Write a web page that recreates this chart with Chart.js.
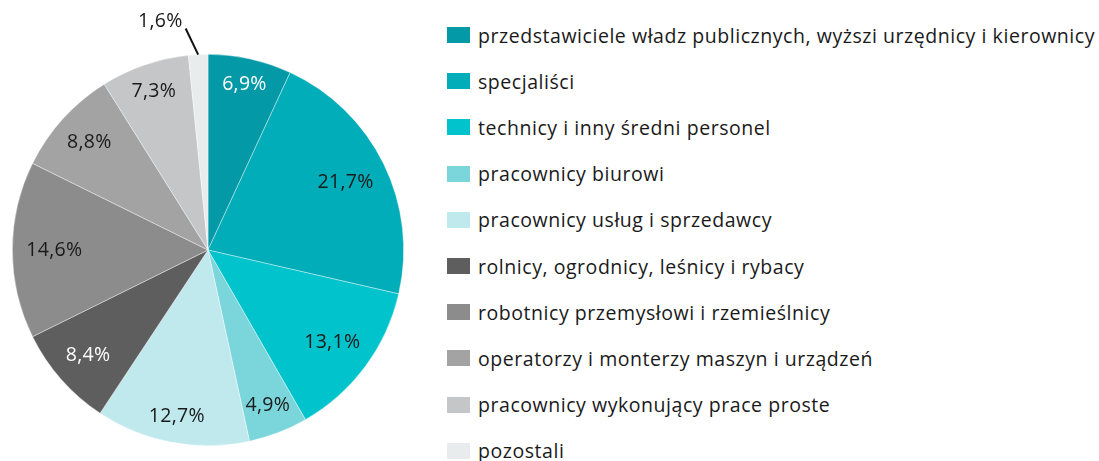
<!DOCTYPE html>
<html>
<head>
<meta charset="utf-8">
<script src="https://cdn.jsdelivr.net/npm/chart.js@4"></script>
<style>
  body { margin: 0; background: #fff; width: 1099px; height: 461px; overflow: hidden; position: relative; font-family: "Open Sans", "Noto Sans", sans-serif; }
  #pieBox { position: absolute; left: 0; top: 0; width: 420px; height: 461px; }
  #legend { position: absolute; left: 447px; top: 0; }
  .item { position: absolute; left: 0; white-space: nowrap; display: flex; align-items: center; height: 24px; }
  .box { width: 23px; height: 16px; margin-right: 8px; flex: none; }
  .txt { font-size: 19.5px; letter-spacing: 0.55px; color: #1a1a1a; }
</style>
</head>
<body>
<div id="pieBox"><canvas id="pie"></canvas></div>
<div id="legend"></div>
<script>
// data
const categories = [
  'przedstawiciele władz publicznych, wyższi urzędnicy i kierownicy',
  'specjaliści',
  'technicy i inny średni personel',
  'pracownicy biurowi',
  'pracownicy usług i sprzedawcy',
  'rolnicy, ogrodnicy, leśnicy i rybacy',
  'robotnicy przemysłowi i rzemieślnicy',
  'operatorzy i monterzy maszyn i urządzeń',
  'pracownicy wykonujący prace proste',
  'pozostali'
];
const shares = [6.9, 21.7, 13.1, 4.9, 12.7, 8.4, 14.6, 8.8, 7.3, 1.6];

const colors = ['#0399a6', '#00adb8', '#00c3cc', '#7bd6dc', '#bfe9ed', '#5e5e5e', '#8c8c8c', '#a3a3a3', '#c4c6c7', '#e8eced'];
const labelColors = ['#fff', '#1a1a1a', '#1a1a1a', '#1a1a1a', '#1a1a1a', '#fff', '#1a1a1a', '#1a1a1a', '#1a1a1a', '#1a1a1a'];
const FONT = '19.5px "Open Sans", "Noto Sans", sans-serif';

const fmt = v => v.toFixed(1).replace('.', ',') + '%';

// labels inside slices, leader line for the tiny one
const sliceLabels = {
  id: 'sliceLabels',
  afterDatasetsDraw(chart) {
    const ctx = chart.ctx;
    const meta = chart.getDatasetMeta(0);
    ctx.save();
    ctx.font = FONT;
    ctx.letterSpacing = '0.3px';
    ctx.textBaseline = 'middle';
    meta.data.forEach((arc, i) => {
      const p = arc.getProps(['x', 'y', 'startAngle', 'endAngle', 'outerRadius'], true);
      const mid = (p.startAngle + p.endAngle) / 2;
      const R = p.outerRadius;
      const text = fmt(shares[i]);
      const w = ctx.measureText(text).width;
      if (shares[i] < 3) {
        const x0 = p.x + Math.cos(mid) * R, y0 = p.y + Math.sin(mid) * R;
        const x1 = p.x + Math.cos(p.startAngle) * (R + 27), y1 = p.y + Math.sin(p.startAngle) * (R + 27);
        ctx.strokeStyle = '#111';
        ctx.lineWidth = 2;
        ctx.beginPath(); ctx.moveTo(x0, y0); ctx.lineTo(x1, y1); ctx.stroke();
        ctx.fillStyle = '#1a1a1a';
        ctx.textAlign = 'right';
        ctx.fillText(text, x1 - 3, y1 - 7);
      } else {
        const h = 15;
        const proj = Math.abs(Math.cos(mid)) * w / 2 + Math.abs(Math.sin(mid)) * h / 2;
        const r = R - 14 - proj;
        ctx.fillStyle = labelColors[i];
        ctx.textAlign = 'center';
        ctx.fillText(text, p.x + Math.cos(mid) * r, p.y + Math.sin(mid) * r);
      }
    });
    ctx.restore();
  }
};

new Chart(document.getElementById('pie'), {
  type: 'pie',
  data: {
    labels: categories,
    datasets: [{
      data: shares,
      backgroundColor: colors,
      borderColor: 'rgba(255,255,255,0.55)',
      borderWidth: 0.7
    }]
  },
  options: {
    responsive: true,
    maintainAspectRatio: false,
    animation: false,
    layout: { padding: { left: 12, top: 54, right: 16, bottom: 15 } },
    plugins: { legend: { display: false }, tooltip: { enabled: false } }
  },
  plugins: [sliceLabels]
});

// legend
const legend = document.getElementById('legend');
categories.forEach((c, i) => {
  const row = document.createElement('div');
  row.className = 'item';
  row.style.top = (35 + i * 46.2 - 12) + 'px';
  row.innerHTML = '<span class="box" style="background:' + colors[i] + '"></span><span class="txt">' + c + '</span>';
  legend.appendChild(row);
});
</script>
</body>
</html>
